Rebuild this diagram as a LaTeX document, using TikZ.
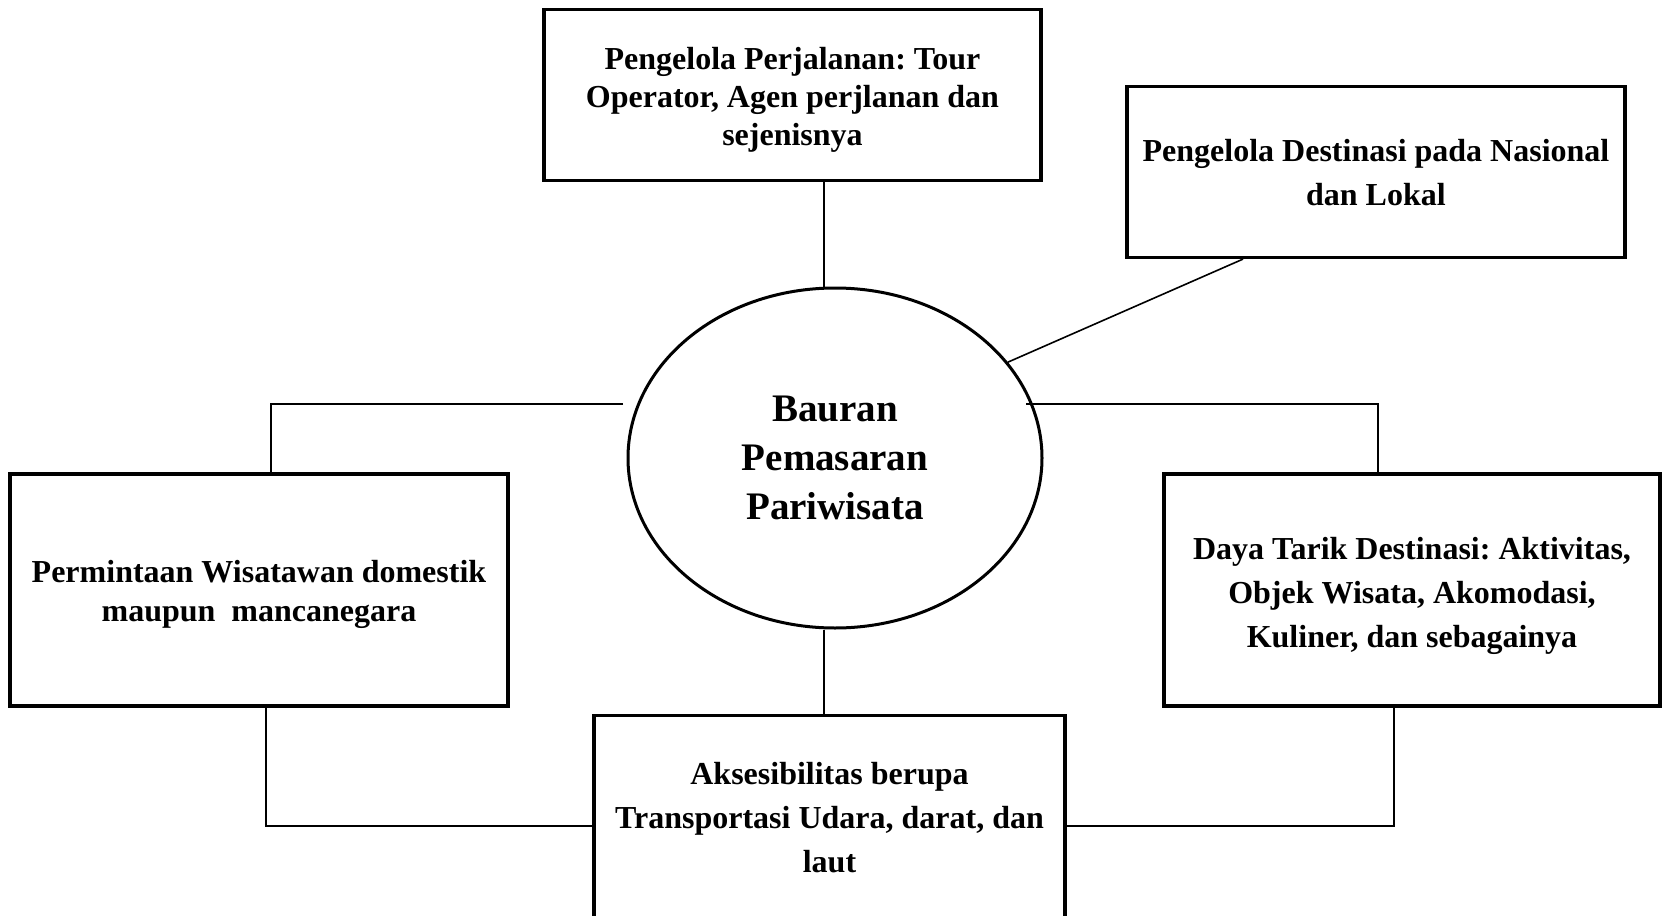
\documentclass[tikz,border=0pt]{standalone}
\usepackage{fontspec}
\setmainfont{Liberation Serif}
\frenchspacing
\usetikzlibrary{shapes.geometric}
\begin{document}
\begin{tikzpicture}[x=0.5pt,y=-0.5pt,
  box/.style={draw, line width=1.6pt, rectangle, align=center, inner sep=0pt,
    font=\fontsize{16}{19}\selectfont\bfseries},
  wide/.style={font=\fontsize{16}{22}\selectfont\bfseries},
  hub/.style={draw, line width=1.5pt, ellipse, align=center, inner sep=0pt,
    minimum width=207pt, minimum height=170pt,
    font=\fontsize{19.5}{24.3}\selectfont\bfseries},
  conn/.style={line width=0.8pt}]
\useasboundingbox (0,0) rectangle (1662,916);
\clip (0,0) rectangle (1662,916);

\node[box, minimum width=248.5pt, minimum height=85.5pt] (top) at (792.5,95)
  {\rule{0pt}{16.3pt}Pengelola Perjalanan: Tour\\Operator, Agen perjlanan dan\\sejenisnya};
\node[box, wide, font=\fontsize{16}{21.7}\selectfont\bfseries, minimum width=249pt, minimum height=85.5pt] (tr) at (1376,172)
  {\rule{0pt}{11.8pt}Pengelola Destinasi pada Nasional\\dan Lokal};
\node[hub] (ell) at (835,458) {Bauran\\Pemasaran\\Pariwisata};
\node[box, font=\fontsize{16}{19.6}\selectfont\bfseries, minimum width=249pt, minimum height=116pt] (left) at (259,590)
  {\rule{0pt}{15.8pt}Permintaan Wisatawan domestik\\maupun~ mancanegara};
\node[box, wide, minimum width=248pt, minimum height=116pt] (right) at (1412,590)
  {\rule{0pt}{16.8pt}Daya Tarik Destinasi: Aktivitas,\\Objek Wisata, Akomodasi,\\Kuliner, dan sebagainya};
\node[box, wide, minimum width=235.5pt, minimum height=102.5pt] (bot) at (829.5,818)
  {Aksesibilitas berupa\\Transportasi Udara, darat, dan\\laut};

\coordinate (vx) at (824,0);
\coordinate (dg) at (1243,0);
\coordinate (lh) at (623,404);
\coordinate (rh) at (1026,404);
\coordinate (lx) at (271,0);
\coordinate (rx) at (1378,0);
\coordinate (lbx) at (266,0);
\coordinate (rbx) at (1394,0);
\coordinate (hy) at (0,826);

\draw[conn] (top.south -| vx) -- (ell.north -| vx);
\draw[conn] (tr.south -| dg) -- (ell.29);
\draw[conn] (lh) -| (left.north -| lx);
\draw[conn] (rh) -| (right.north -| rx);
\draw[conn] (ell.south -| vx) -- (bot.north -| vx);
\draw[conn] (left.south -| lbx) |- (bot.west |- hy);
\draw[conn] (right.south -| rbx) |- (bot.east |- hy);
\end{tikzpicture}
\end{document}
